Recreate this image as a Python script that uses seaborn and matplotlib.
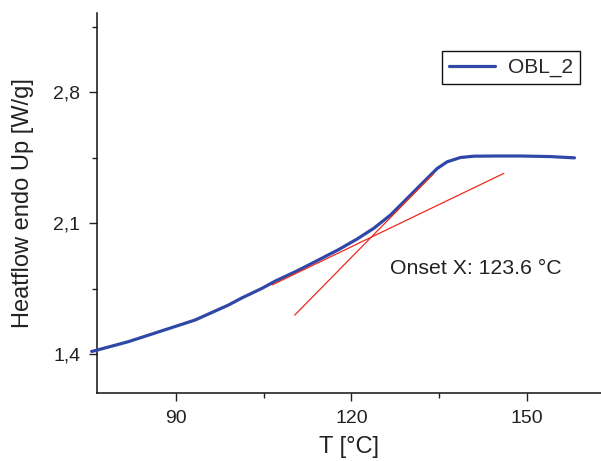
import matplotlib
matplotlib.use("Agg")
import matplotlib.pyplot as plt
from matplotlib.ticker import MultipleLocator, FuncFormatter
import pandas as pd
import seaborn as sns

# DSC heating curve of sample OBL_2
temperature = [75.55, 76.11, 81.82, 87.55, 93.26, 98.97, 101.26, 104.69, 106.97,
               110.4, 111.82, 117.8, 120.98, 123.82, 126.69, 129.55, 132.39,
               134.69, 136.41, 138.69, 140.97, 145.0, 149.0, 154.0, 158.2]
heatflow = [1.414, 1.418, 1.466, 1.524, 1.582, 1.662, 1.700, 1.751, 1.790,
            1.840, 1.862, 1.958, 2.015, 2.072, 2.143, 2.232, 2.321,
            2.392, 2.428, 2.451, 2.458, 2.459, 2.459, 2.456, 2.449]
series_name = "OBL_2"

# tangent construction for the onset
baseline_tangent_t = [106.4, 146.1]
baseline_tangent_y = [1.769, 2.366]
inflection_tangent_t = [110.3, 134.0]
inflection_tangent_y = [1.608, 2.362]
onset_label = "Onset X: 123.6 °C"

x_ticks = [90, 120, 150]
y_ticks = [1.4, 2.1, 2.8]

sns.set_theme(style="ticks")
plt.rcParams["font.family"] = ["Liberation Sans", "DejaVu Sans"]

fig = plt.figure(figsize=(6.01, 4.61), dpi=100)
ax = fig.add_axes([97 / 601, 68 / 461, 504 / 601, 380 / 461])

df = pd.DataFrame({"T": temperature, "HF": heatflow, "sample": series_name})
sns.lineplot(data=df, x="T", y="HF", hue="sample", palette=["#2f48a8"],
             linewidth=2.3, ax=ax, clip_on=False, sort=False, zorder=3)

ax.plot(baseline_tangent_t, baseline_tangent_y, color="#ee2a1e", lw=0.9, zorder=4)
ax.plot(inflection_tangent_t, inflection_tangent_y, color="#ee2a1e", lw=0.9, zorder=4)

ax.text((389.5 - 97) / 504, (393 - 268) / 380, onset_label, transform=ax.transAxes,
        fontsize=15.3, color="#222222", ha="left", va="center")

ax.set_xlim(76.46, 162.74)
ax.set_ylim(1.1916, 3.2237)
ax.set_xticks(x_ticks)
ax.set_yticks(y_ticks)
ax.xaxis.set_minor_locator(MultipleLocator(15))
ax.yaxis.set_minor_locator(MultipleLocator(0.35))
ax.yaxis.set_major_formatter(FuncFormatter(lambda v, _: f"{v:.1f}".replace(".", ",")))

ax.tick_params(axis="both", which="major", direction="out", length=6, width=1,
               labelsize=14, colors="#222222", pad=6)
ax.tick_params(axis="both", which="minor", direction="out", length=3.5, width=1,
               colors="#222222")
for side in ("top", "right"):
    ax.spines[side].set_visible(False)
for side in ("left", "bottom"):
    ax.spines[side].set_linewidth(1.1)
    ax.spines[side].set_color("#111111")

ax.set_xlabel("T [°C]", fontsize=17, color="#222222", labelpad=7)
ax.set_ylabel("Heatflow endo Up [W/g]", fontsize=17, color="#222222", labelpad=14)

leg = ax.legend(loc="upper right", bbox_to_anchor=(0.958, 0.901), fontsize=15,
                frameon=True, fancybox=False, framealpha=1, edgecolor="#111111",
                handlelength=2.2, handletextpad=0.6, borderpad=0.35,
                borderaxespad=0)
leg.get_frame().set_linewidth(1.0)
for h in leg.get_lines():
    h.set_linewidth(2.3)

fig.savefig("out.png", dpi=100)
